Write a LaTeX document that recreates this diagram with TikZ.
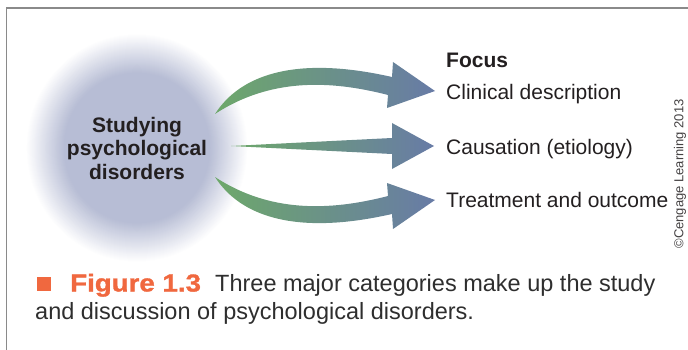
\documentclass[tikz,border=0pt]{standalone}
\usepackage{fontspec}
\setmainfont{Liberation Sans}
\newfontfamily\figfont{Liberation Sans}[FakeStretch=1.13, FakeBold=1.3]
\usepackage{tikz}
\usetikzlibrary{shapes.geometric}

\definecolor{inkc}{HTML}{231F20}
\definecolor{captc}{HTML}{2E2E2E}
\definecolor{glowc}{HTML}{B7BDD5}
\definecolor{arrgreen}{HTML}{6DA86A}
\definecolor{arrblue}{HTML}{687BA6}
\definecolor{figorange}{HTML}{F0683F}
\definecolor{framec}{HTML}{8A8A8A}

\begin{document}
\begin{tikzpicture}[x=1pt, y=-1pt,
		focustext/.style={anchor=base west, inner sep=0pt, text=inkc, font=\fontsize{21}{24}\selectfont},
		captext/.style={anchor=base west, inner sep=0pt, text=captc, font=\fontsize{23.5}{28}\selectfont},
		fatarrow/.style={left color=arrgreen, right color=arrblue, draw=none}]
		\useasboundingbox (0,0) rectangle (688,350);
		\draw[framec, line width=1.3pt] (6.5,350) -- (6.5,8) -- (688,8);

		% soft glow behind the centre text
		\coordinate (glow-c) at (137,148);
		\foreach \i [evaluate=\i as \r using 111-0.95*\i, evaluate=\i as \p using 2.5*\i] in {0,...,40}
			\fill[glowc!\p!white] (glow-c) ellipse [x radius=\r, y radius=1.03*\r];

		\node[align=center, text=inkc, font=\bfseries\fontsize{21}{23.5}\selectfont] (study) at (glow-c) {Studying\\psychological\\disorders};

		\node[focustext, font=\bfseries\fontsize{21}{24}\selectfont] (focus) at (446,68) {Focus};
		\node[focustext] (clinical) at (446,99.5) {Clinical description};
		\node[focustext] (causation) at (446,154.5) {Causation (etiology)};
		\node[focustext] (treatment) at (446,207.5) {Treatment and outcome};

		\coordinate (tail-1) at (215,114);
		\coordinate (tip-1) at (435,91);
		\coordinate (tail-2) at (231,146);
		\coordinate (tip-2) at (434,146);
		\coordinate (tail-3) at (215,177);
		\coordinate (tip-3) at (435,200);

		\shade[fatarrow] (tail-1) .. controls (240,75) and (295,55) .. (392,77) -- (393,62) -- (tip-1) -- (387,108)
			-- (388,95) .. controls (330,80) and (270,78) .. (tail-1) -- cycle;
		\shade[fatarrow] (tail-2) -- (392,138) -- (392,123) -- (tip-2) -- (392,169) -- (392,154) -- cycle;
		\shade[fatarrow] (tail-3) .. controls (240,216) and (295,236) .. (392,214) -- (393,229) -- (tip-3) -- (387,183)
			-- (388,196) .. controls (330,211) and (270,213) .. (tail-3) -- cycle;

		\node[rotate=90, inner sep=0pt, text=inkc!85, font=\fontsize{13}{15}\selectfont] (credit) at (680,174) {©Cengage Learning 2013};

		\node[fill=figorange, minimum size=14pt, inner sep=0pt] (figmark) at (44,284) {};
		\node[captext, text=figorange, font=\figfont\bfseries\fontsize{24.5}{28}\selectfont] (figlabel) at (70,291.5) {Figure 1.3};
		\node[captext] (caption) at (215,291) {Three major categories make up the study};
		\node[captext] (caption-2) at (35,319) {and discussion of psychological disorders.};
	\end{tikzpicture}
\end{document}
